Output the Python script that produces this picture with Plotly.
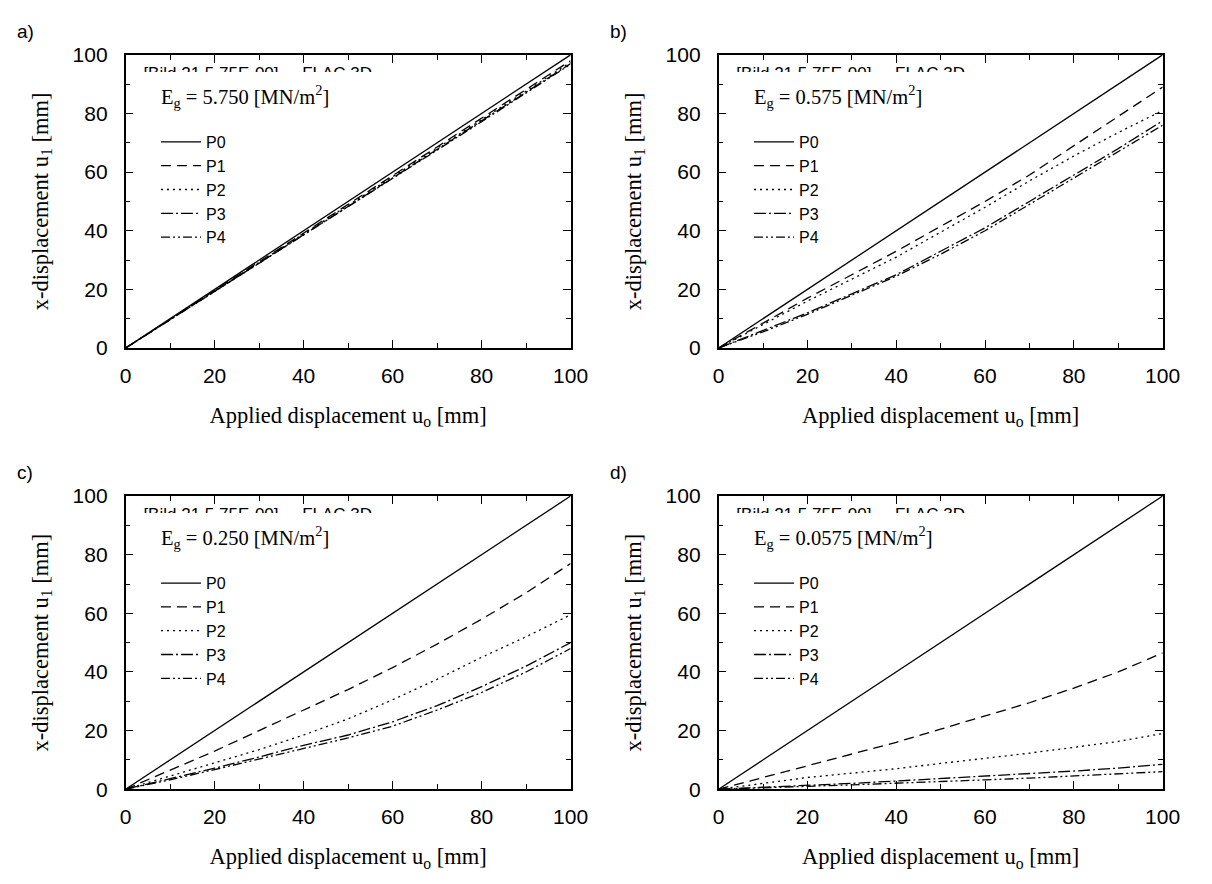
import plotly.graph_objects as go

# ---------------- data ----------------
u0 = [0, 10, 20, 30, 40, 50, 60, 70, 80, 90, 100]
series_names = ["P0", "P1", "P2", "P3", "P4"]
panel_labels = ["a)", "b)", "c)", "d)"]
eg_values = ["5.750", "0.575", "0.250", "0.0575"]
tick_vals = [0, 20, 40, 60, 80, 100]

a_P0 = [0, 10, 20, 30, 40, 50, 60, 70, 80, 90, 100]
a_P1 = [0, 9.8, 19.6, 29.4, 39.2, 49.0, 58.8, 68.6, 78.4, 88.2, 98.0]
a_P2 = [0, 9.7, 19.4, 29.1, 38.8, 48.6, 58.3, 68.0, 77.8, 87.6, 97.5]
a_P3 = [0, 9.6, 19.3, 28.9, 38.6, 48.3, 58.0, 67.7, 77.4, 87.2, 97.0]
a_P4 = [0, 9.6, 19.2, 28.8, 38.5, 48.1, 57.8, 67.5, 77.2, 87.0, 96.8]

b_P0 = [0, 10, 20, 30, 40, 50, 60, 70, 80, 90, 100]
b_P1 = [0, 8.5, 17, 25, 33, 41.5, 50, 59, 69, 79, 89]
b_P2 = [0, 8, 16, 23.5, 31, 39.5, 48, 57, 65.5, 73.5, 81]
b_P3 = [0, 6, 12, 18.5, 25, 33, 41, 50, 59, 68, 77.5]
b_P4 = [0, 5.5, 11.5, 18, 24.5, 32, 40, 49, 58, 67, 76]

c_P0 = [0, 10, 20, 30, 40, 50, 60, 70, 80, 90, 100]
c_P1 = [0, 6.5, 13, 20, 27, 34, 41.5, 49.5, 58, 67, 77]
c_P2 = [0, 4.5, 9, 13.5, 18.5, 24, 30.5, 37.5, 45, 52, 59.5]
c_P3 = [0, 3.5, 7.2, 11, 15, 18.5, 23, 28.5, 35, 42, 50]
c_P4 = [0, 3.2, 6.7, 10.3, 14, 17.5, 21.5, 27, 33, 40, 48]

d_P0 = [0, 10, 20, 30, 40, 50, 60, 70, 80, 90, 100]
d_P1 = [0, 4, 8, 12, 16, 20.5, 25, 29.5, 34.5, 40, 46.5]
d_P2 = [0, 2, 4, 5.5, 7, 8.8, 10.5, 12.3, 14.3, 16.3, 19]
d_P3 = [0, 0.6, 1.4, 2, 2.8, 3.6, 4.4, 5.3, 6.2, 7.2, 8.5]
d_P4 = [0, 0.4, 1, 1.5, 2, 2.6, 3.2, 3.8, 4.5, 5.2, 6]

panels = [
    [a_P0, a_P1, a_P2, a_P3, a_P4],
    [b_P0, b_P1, b_P2, b_P3, b_P4],
    [c_P0, c_P1, c_P2, c_P3, c_P4],
    [d_P0, d_P1, d_P2, d_P3, d_P4],
]

# ---------------- styling ----------------
W, H = 1212, 884
dashes = ["solid", "10px,6px", "2px,4px", "12px,3px,2px,3px", "9px,3px,2px,3px,2px,3px"]
# plot-area pixel boxes (left, right, top, bottom)
boxes = [(122, 576, 44, 345), (727, 1180, 44, 345),
         (122, 576, 497, 798), (727, 1180, 497, 798)]

SANS = "Liberation Sans, Arial, sans-serif"
SERIF = "Liberation Serif, Times New Roman, serif"

fig = go.Figure()
annotations = []
shapes = []


def px_to_val(px, t, b):
    return 100.0 * (b - px) / (b - t)


for i, (box, data) in enumerate(zip(boxes, panels)):
    l, r, t, b = box
    sfx = "" if i == 0 else str(i + 1)
    xa, ya = "x" + sfx, "y" + sfx
    leg = "legend" + sfx
    for name, ys, dash in zip(series_names, data, dashes):
        fig.add_trace(go.Scatter(
            x=u0, y=ys, mode="lines", name=name,
            line=dict(color="black", width=1.3, dash=dash),
            xaxis=xa, yaxis=ya, legend=leg, showlegend=True,
        ))
    # clipped header text of the original export (only its top edge shows)
    fig.add_trace(go.Scatter(
        x=[4], y=[px_to_val(t + 20, t, b)], mode="text",
        text=["[Bild 21 5.75E-00]     FLAC 3D"],
        textposition="middle right",
        textfont=dict(family=SANS, size=17, color="black"),
        xaxis=xa, yaxis=ya, showlegend=False, hoverinfo="skip",
    ))
    shapes.append(dict(type="rect", xref=xa, yref=ya, x0=2, x1=70,
                       y0=px_to_val(t + 31, t, b), y1=px_to_val(t + 17.5, t, b),
                       fillcolor="white", line=dict(width=0), layer="above"))

    axis_common = dict(
        range=[0, 100], showgrid=False, zeroline=False,
        showline=True, linecolor="black", linewidth=1.5, mirror="ticks",
        ticks="inside", ticklen=8, tickwidth=1, tickcolor="black",
        tickvals=tick_vals,
        tickfont=dict(family=SANS, size=21, color="black"),
        minor=dict(ticks="inside", ticklen=5, tickwidth=1, tickcolor="black", dtick=10, tick0=0),
        fixedrange=True,
    )
    fig.layout["xaxis" + sfx] = dict(
        axis_common, anchor=ya, domain=[l / W, r / W],
        ticklabelstandoff=8,
        title=dict(text="Applied displacement u<sub>o</sub> [mm]",
                   font=dict(family=SERIF, size=22.5, color="black"), standoff=21),
    )
    fig.layout["yaxis" + sfx] = dict(
        axis_common, anchor=xa, domain=[1 - b / H, 1 - t / H],
        ticklabelstandoff=12,
        title=dict(text="x-displacement u<sub>1</sub> [mm]",
                   font=dict(family=SERIF, size=22.5, color="black"), standoff=18),
    )
    fig.layout[leg] = dict(
        x=(l + 31) / W, y=1 - (t + 72) / H, xanchor="left", yanchor="top",
        bgcolor="rgba(0,0,0,0)", borderwidth=0,
        font=dict(family=SANS, size=16, color="black"),
        itemwidth=40, tracegroupgap=0,
    )
    annotations.append(dict(
        xref="paper", yref="paper", x=(l + 34) / W, y=1 - (t + 43) / H,
        xanchor="left", yanchor="middle", showarrow=False,
        text="E<sub>g</sub> = %s [MN/m<sup>2</sup>]" % eg_values[i],
        font=dict(family=SERIF, size=20.5, color="black"),
    ))
    annotations.append(dict(
        xref="paper", yref="paper", x=(l - 113) / W, y=1 - (t - 24) / H,
        xanchor="left", yanchor="middle", showarrow=False,
        text=panel_labels[i], font=dict(family=SANS, size=19, color="black"),
    ))

fig.update_layout(
    width=W, height=H, margin=dict(l=0, r=0, t=0, b=0),
    paper_bgcolor="white", plot_bgcolor="white",
    annotations=annotations, shapes=shapes,
)

fig.write_html("out.html")
